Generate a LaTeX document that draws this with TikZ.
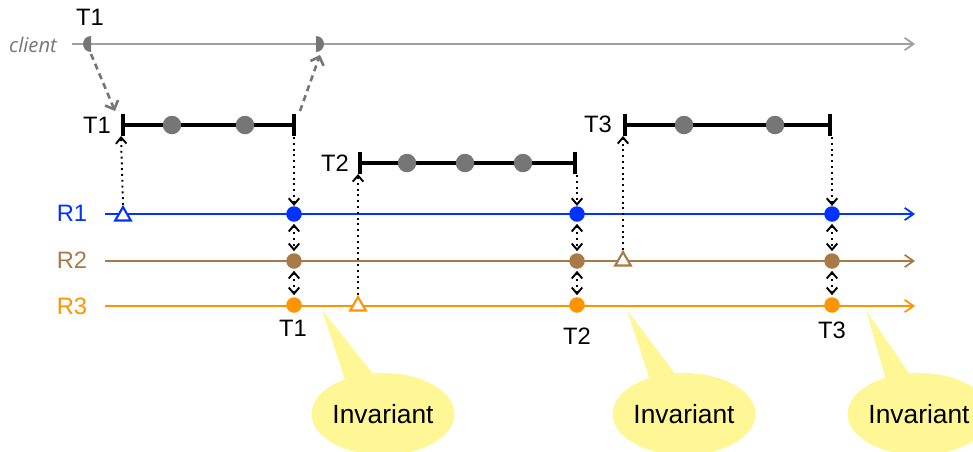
\documentclass[tikz,border=0pt]{standalone}
\usepackage{fontspec}
\setmainfont{Liberation Sans}
\newfontfamily\clientfont{Open Sans}
\usetikzlibrary{arrows.meta,shapes.geometric}
\definecolor{rblue}{RGB}{0,51,255}
\definecolor{rbrown}{RGB}{168,122,72}
\definecolor{rorange}{RGB}{255,148,0}
\definecolor{cgray}{RGB}{160,160,160}
\definecolor{dgray}{RGB}{118,118,118}
\definecolor{bubble}{RGB}{255,246,150}
\begin{document}
\begin{tikzpicture}[x=0.02cm,y=-0.02cm,
  lbl/.style={font=\fontsize{13.5}{15}\selectfont},
  barline/.style={line width=2.4pt,{Bar[width=13pt]}-{Bar[width=13pt]}},
  bead/.style={circle,fill=dgray,inner sep=0,minimum size=0.37cm},
  rdot/.style={circle,inner sep=0,minimum size=0.31cm},
  rline/.style={line width=1pt,-{Straight Barb[length=5pt,width=7pt]}},
  tri/.style={regular polygon,regular polygon sides=3,draw,line width=1.2pt,inner sep=0,minimum size=0.36cm},
  dotarrow/.style={line width=1.1pt,dash pattern=on 1.1pt off 2.2pt,-{Straight Barb[length=3.5pt,width=6pt]}},
  dotboth/.style={line width=1.1pt,dash pattern=on 1.1pt off 2.2pt,{Straight Barb[length=3.5pt,width=6pt]}-{Straight Barb[length=3.5pt,width=6pt]},shorten <=1pt,shorten >=1pt},
  dasharrow/.style={dgray,dash pattern=on 3.5pt off 2.5pt,line width=1.5pt,-{Straight Barb[length=4pt,width=8pt]}},
  callout/.style={fill=bubble},
  invar/.style={ellipse,fill=bubble,minimum width=2.76cm,minimum height=1.64cm,inner sep=0,font=\fontsize{15}{17}\selectfont}]
\useasboundingbox (0,0) rectangle (973,451);

% client timeline
\coordinate (cstart) at (72,44);
\coordinate (cend) at (915,44);
\coordinate (cl1) at (89,44);
\coordinate (cl2) at (318,44);
\draw[cgray,line width=1pt,-{Straight Barb[length=5pt,width=7pt]}] (cstart) -- (cend);
\fill[dgray] ([shift={(2,-8)}]cl1) arc[start angle=270,end angle=90,radius=8] -- cycle;
\fill[dgray] ([shift={(-2,-8)}]cl2) arc[start angle=-90,end angle=90,radius=8] -- cycle;
\node[text=dgray,font=\clientfont\itshape\fontsize{11.5}{13}\selectfont] (clientlbl) at (33,45) {client};
\node[lbl] (ct1) at (90,17) {T1};

% transactions
\coordinate (t1s) at (121,125);
\coordinate (t1e) at (296,125);
\coordinate (t2s) at (358,163);
\coordinate (t2e) at (577,163);
\coordinate (t3s) at (623,125);
\coordinate (t3e) at (832,125);
\draw[barline] (t1s) -- (t1e);
\draw[barline] (t2s) -- (t2e);
\draw[barline] (t3s) -- (t3e);
\node[bead] (b11) at (172,125) {};
\node[bead] (b12) at (245,125) {};
\node[bead] (b21) at (407,163) {};
\node[bead] (b22) at (465,163) {};
\node[bead] (b23) at (523,163) {};
\node[bead] (b31) at (684,125) {};
\node[bead] (b32) at (775,125) {};
\node[lbl] (lt1) at (97,125) {T1};
\node[lbl] (lt2) at (335,163) {T2};
\node[lbl] (lt3) at (598,124) {T3};

% client requests and replies
\draw[dasharrow] ([shift={(2,10)}]cl1) -- ([shift={(-6,-14)}]t1s);
\draw[dasharrow] ([shift={(4,-14)}]t1e) -- ([shift={(2,11)}]cl2);

% replica timelines
\coordinate (r1s) at (105,214);
\coordinate (r1e) at (915,214);
\coordinate (r2s) at (105,261);
\coordinate (r2e) at (915,261);
\coordinate (r3s) at (105,306);
\coordinate (r3e) at (915,306);
\draw[rline,rblue] (r1s) -- (r1e);
\draw[rline,rbrown] (r2s) -- (r2e);
\draw[rline,rorange] (r3s) -- (r3e);
\node[lbl,text=rblue] (lr1) at (72,213) {R1};
\node[lbl,text=rbrown] (lr2) at (72,260) {R2};
\node[lbl,text=rorange] (lr3) at (72,306) {R3};

% start events
\node[tri,rblue,fill=white] (s1) at (123,216) {};
\node[tri,rorange,fill=white] (s2) at (358,306) {};
\node[tri,rbrown,fill=white] (s3) at (623,261) {};
\draw[dotarrow] (s1.north) -- ([shift={(0,11)}]t1s);
\draw[dotarrow] (s2.north) -- ([shift={(0,11)}]t2s);
\draw[dotarrow] (s3.north) -- ([shift={(0,11)}]t3s);

% commit points
\foreach \n/\x in {a/294,b/577,c/832}{
  \node[rdot,fill=rblue] (d1\n) at (\x,214) {};
  \node[rdot,fill=rbrown] (d2\n) at (\x,261) {};
  \node[rdot,fill=rorange] (d3\n) at (\x,305) {};
  \draw[dotboth] (d1\n) -- (d2\n);
  \draw[dotboth] (d2\n) -- (d3\n);
}
\draw[dotarrow] ([shift={(-2,12)}]t1e) -- (d1a);
\draw[dotarrow] ([shift={(0,12)}]t2e) -- (d1b);
\draw[dotarrow] ([shift={(0,12)}]t3e) -- (d1c);
\node[lbl] (bt1) at (293,328) {T1};
\node[lbl] (bt2) at (577,336) {T2};
\node[lbl] (bt3) at (832,330) {T3};

% invariant callouts
\node[invar] (inv1) at (383,414) {Invariant};
\node[invar] (inv2) at (684,414) {Invariant};
\node[invar] (inv3) at (919,414) {Invariant};
\coordinate (p1) at (322,310);
\coordinate (p2) at (627,310);
\coordinate (p3) at (866,310);
\fill[callout] (p1) -- (345,380) -- (374,375) -- cycle;
\fill[callout] (p2) -- (650,380) -- (676,375) -- cycle;
\fill[callout] (p3) -- (886,380) -- (910,375) -- cycle;
\end{tikzpicture}
\end{document}
